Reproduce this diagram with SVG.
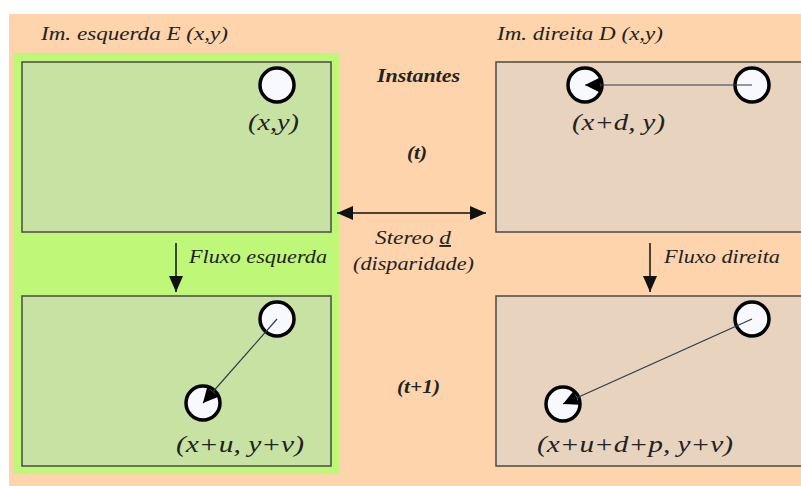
<svg xmlns="http://www.w3.org/2000/svg" width="801" height="486" viewBox="0 0 801 486">
<defs>
<style>
text{font-family:"Liberation Serif","DejaVu Serif",serif;font-style:italic;fill:#222;}
.b{font-weight:bold;}
.img{stroke:#4a4a4a;stroke-width:1.5;}
.pt{fill:#f8f9ff;stroke:#000;stroke-width:3.5;}
.ln{stroke:#2b3a48;stroke-width:1.2;fill:none;}
.ax{stroke:#111;stroke-width:1.5;fill:none;}
</style>
<marker id="ahs" viewBox="0 0 10 10" refX="10" refY="5" markerWidth="15" markerHeight="15" markerUnits="userSpaceOnUse" orient="auto"><path d="M0,0 L10,5 L0,10 z" fill="#000"/></marker>
<marker id="big" viewBox="0 0 16 14" refX="16" refY="7" markerWidth="16" markerHeight="14" markerUnits="userSpaceOnUse" orient="auto-start-reverse"><path d="M0,0 L16,7 L0,14 z" fill="#111"/></marker>
</defs>
<rect x="0" y="0" width="801" height="486" fill="#ffffff"/>
<rect x="9" y="14" width="792" height="472" fill="#fdd4ac"/>
<rect x="13" y="53" width="326" height="421" fill="#bff879"/>

<g id="left-t">
<rect class="img" x="22" y="62" width="309" height="170" fill="#c8e2a4"/>
<circle class="pt" cx="277" cy="85" r="17"/>
<text x="248" y="130" font-size="23" textLength="51" lengthAdjust="spacingAndGlyphs">(x,y)</text>
</g>
<g id="right-t">
<rect class="img" x="496" y="62" width="320" height="170" fill="#e8d3be"/>
<circle class="pt" cx="585" cy="85" r="17"/>
<circle class="pt" cx="752" cy="85" r="17"/>
<text x="572" y="130" font-size="23" textLength="93" lengthAdjust="spacingAndGlyphs">(x+d, y)</text>
</g>
<g id="left-t1">
<rect class="img" x="22" y="296" width="309" height="170" fill="#c8e2a4"/>
<circle class="pt" cx="277" cy="319" r="17"/>
<circle class="pt" cx="203" cy="403" r="17"/>
<text x="176" y="452" font-size="23" textLength="128" lengthAdjust="spacingAndGlyphs">(x+u, y+v)</text>
</g>
<g id="right-t1">
<rect class="img" x="496" y="296" width="320" height="170" fill="#e8d3be"/>
<circle class="pt" cx="752" cy="319" r="17"/>
<circle class="pt" cx="563" cy="404" r="17"/>
<text x="537" y="452" font-size="23" textLength="196" lengthAdjust="spacingAndGlyphs">(x+u+d+p, y+v)</text>
</g>

<g id="titles">
<text x="41" y="40" font-size="19" textLength="187" lengthAdjust="spacingAndGlyphs">Im. esquerda  E (x,y)</text>
<text x="497" y="40" font-size="19" textLength="166" lengthAdjust="spacingAndGlyphs">Im. direita  D (x,y)</text>
<text class="b" x="377" y="82" font-size="18" textLength="83" lengthAdjust="spacingAndGlyphs">Instantes</text>
<text class="b" x="407" y="159" font-size="18" textLength="20" lengthAdjust="spacingAndGlyphs">(t)</text>
<text class="b" x="397" y="393" font-size="18" textLength="43" lengthAdjust="spacingAndGlyphs">(t+1)</text>
<text x="375" y="244" font-size="19" textLength="76" lengthAdjust="spacingAndGlyphs">Stereo <tspan text-decoration="underline">d</tspan></text>
<text x="353" y="270" font-size="19" textLength="121" lengthAdjust="spacingAndGlyphs">(disparidade)</text>
<text x="189" y="263" font-size="19" textLength="138" lengthAdjust="spacingAndGlyphs">Fluxo esquerda</text>
<text x="664" y="263" font-size="19" textLength="116" lengthAdjust="spacingAndGlyphs">Fluxo direita</text>
</g>

<g id="connectors">
<line class="ln" x1="752" y1="85" x2="585" y2="85" marker-end="url(#ahs)"/>
<line class="ln" x1="277" y1="319" x2="203" y2="403" marker-end="url(#ahs)"/>
<line class="ln" x1="752" y1="319" x2="563" y2="404" marker-end="url(#ahs)"/>
<line class="ax" x1="337" y1="213" x2="486" y2="213" marker-start="url(#big)" marker-end="url(#big)"/>
<line class="ax" x1="176" y1="243" x2="176" y2="292" marker-end="url(#big)"/>
<line class="ax" x1="650" y1="243" x2="650" y2="292" marker-end="url(#big)"/>
</g>
</svg>
